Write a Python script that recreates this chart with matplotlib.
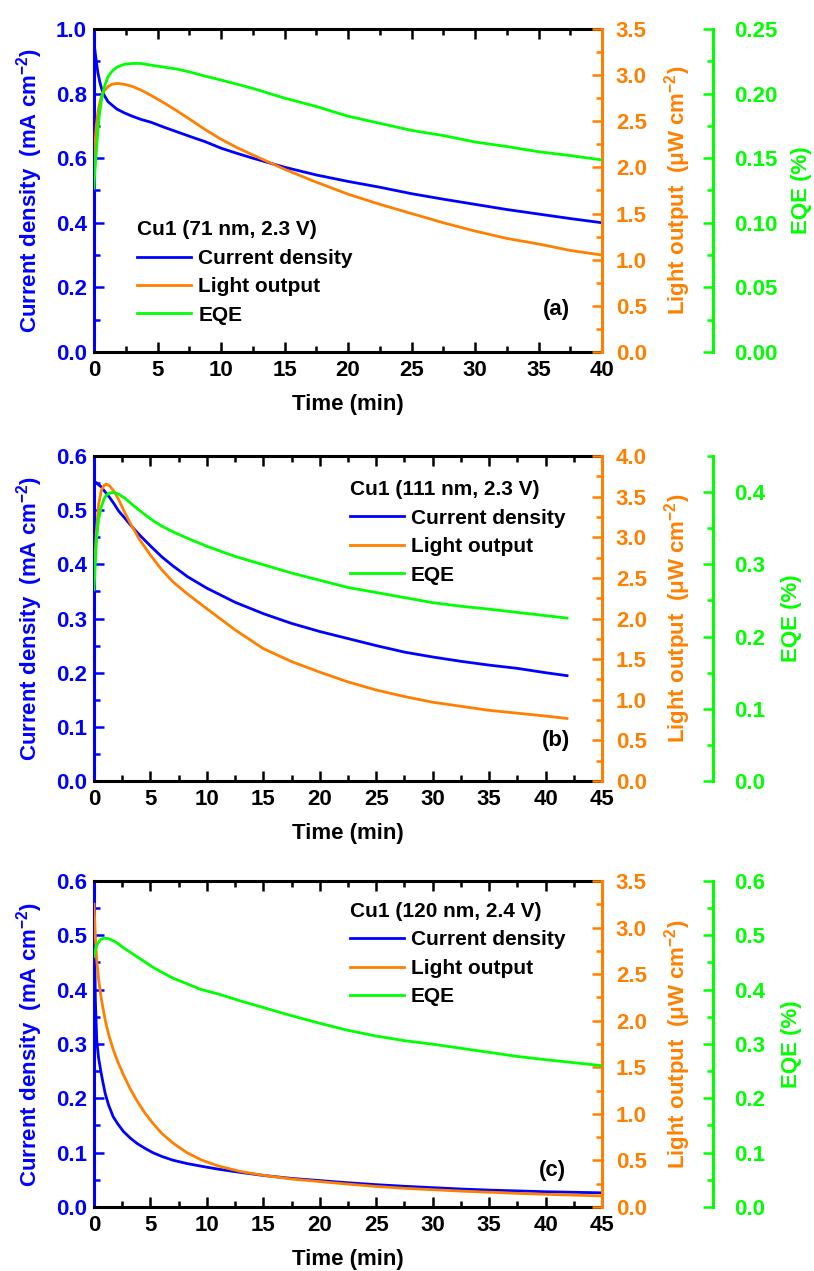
import matplotlib.pyplot as plt
from matplotlib.ticker import MultipleLocator, FormatStrFormatter

plt.rcParams['font.family'] = ['Liberation Sans', 'DejaVu Sans']
plt.rcParams['font.weight'] = 'bold'
plt.rcParams['axes.labelweight'] = 'bold'
plt.rcParams['mathtext.fontset'] = 'custom'
plt.rcParams['mathtext.rm'] = 'Liberation Sans:bold'
plt.rcParams['mathtext.it'] = 'Liberation Sans:bold'
plt.rcParams['mathtext.bf'] = 'Liberation Sans:bold'

BLUE = '#0000FF'
ORANGE = '#FF8000'
GREEN = '#00FF00'

# (a) Cu1 71 nm, 2.3 V
t_a = [0, 0.05, 0.18, 0.3, 0.45, 0.6, 0.8, 1.1, 1.4, 1.8, 2.4, 3.0, 3.7, 4.5, 5.5, 6.5,
       7.5, 8.75, 10, 11.25, 12.5, 15, 17.5, 20, 22.5, 25, 27.5, 30, 32.5, 35, 37.5, 40]
j_a = [0.98, 0.94, 0.90, 0.866, 0.837, 0.815, 0.795, 0.775, 0.765, 0.752, 0.740, 0.730,
       0.720, 0.711, 0.696, 0.682, 0.668, 0.651, 0.631, 0.615, 0.600, 0.572, 0.548, 0.528,
       0.510, 0.490, 0.473, 0.457, 0.441, 0.427, 0.413, 0.400]
l_a = [2.0, 2.2, 2.45, 2.59, 2.70, 2.775, 2.83, 2.875, 2.90, 2.91, 2.90, 2.878, 2.838,
       2.78, 2.70, 2.615, 2.525, 2.41, 2.305, 2.215, 2.135, 1.98, 1.84, 1.71, 1.60, 1.50,
       1.40, 1.31, 1.23, 1.17, 1.10, 1.05]
g_a = [0.1267, 0.138, 0.155, 0.171, 0.186, 0.196, 0.205, 0.213, 0.217, 0.2205, 0.2227,
       0.2233, 0.2233, 0.222, 0.2205, 0.219, 0.2168, 0.2135, 0.2105, 0.2073, 0.204,
       0.1965, 0.190, 0.1825, 0.177, 0.1715, 0.1675, 0.1625, 0.159, 0.155, 0.152, 0.1486]

# (b) Cu1 111 nm, 2.3 V
t_b = [0, 0.2, 0.4, 0.65, 0.9, 1.1, 1.4, 1.8, 2.2, 2.7, 3.3, 4.0, 5.0, 6.0, 7.0, 8.3, 10,
       12.5, 15, 17.5, 20, 22.5, 25, 27.5, 30, 32.5, 35, 37.5, 40, 41.9]
j_b = [0.5525, 0.551, 0.547, 0.543, 0.536, 0.531, 0.523, 0.511, 0.498, 0.486, 0.471,
       0.455, 0.434, 0.414, 0.397, 0.377, 0.356, 0.330, 0.309, 0.291, 0.276, 0.263, 0.250,
       0.238, 0.229, 0.221, 0.214, 0.208, 0.200, 0.1945]
l_b = [2.5, 3.05, 3.40, 3.58, 3.64, 3.655, 3.63, 3.56, 3.46, 3.31, 3.15, 2.98, 2.78, 2.60,
       2.45, 2.30, 2.12, 1.86, 1.63, 1.47, 1.34, 1.22, 1.12, 1.04, 0.97, 0.92, 0.87, 0.835,
       0.80, 0.77]
g_b = [0.265, 0.33, 0.362, 0.38, 0.391, 0.396, 0.399, 0.3995, 0.397, 0.392, 0.384, 0.375,
       0.363, 0.353, 0.345, 0.336, 0.325, 0.311, 0.2995, 0.288, 0.278, 0.268, 0.261, 0.254,
       0.247, 0.242, 0.238, 0.2335, 0.229, 0.2256]

# (c) Cu1 120 nm, 2.4 V
t_c = [0, 0.05, 0.12, 0.24, 0.4, 0.6, 0.8, 1.0, 1.3, 1.7, 2.1, 2.6, 3.2, 3.8, 4.5, 5.2,
       6.0, 7.0, 8.2, 9.5, 11, 13, 15, 17.5, 20, 22.5, 25, 27.5, 30, 32.5, 35, 37.5, 40,
       42.5, 45]
j_c = [0.59, 0.48, 0.38, 0.307, 0.275, 0.25, 0.228, 0.208, 0.187, 0.166, 0.153, 0.139,
       0.127, 0.117, 0.108, 0.100, 0.093, 0.086, 0.080, 0.075, 0.0695, 0.0635, 0.058,
       0.0525, 0.0485, 0.0445, 0.041, 0.038, 0.0355, 0.033, 0.031, 0.0295, 0.028, 0.027,
       0.026]
l_c = [3.25, 3.1, 2.9, 2.65, 2.45, 2.27, 2.13, 2.00, 1.85, 1.69, 1.56, 1.42, 1.27, 1.14,
       1.01, 0.90, 0.79, 0.685, 0.585, 0.505, 0.44, 0.38, 0.34, 0.30, 0.272, 0.245, 0.22,
       0.20, 0.185, 0.17, 0.158, 0.146, 0.136, 0.127, 0.118]
g_c = [0.4607, 0.468, 0.474, 0.481, 0.487, 0.4925, 0.4942, 0.4945, 0.4935, 0.490, 0.485,
       0.477, 0.469, 0.4605, 0.451, 0.4415, 0.432, 0.421, 0.411, 0.400, 0.392, 0.379,
       0.367, 0.352, 0.338, 0.325, 0.3145, 0.306, 0.2995, 0.292, 0.2845, 0.277, 0.271,
       0.2655, 0.26]

panels = [
    dict(t=t_a, j=j_a, l=l_a, g=g_a, tag='(a)', title='Cu1 (71 nm, 2.3 V)',
         rect=[0.1155, 0.7231, 0.6241, 0.2541], xmax=40, jmax=1.0, jstep=0.2,
         lmax=3.5, gmax=0.25, gstep=0.05, gfmt='%.2f', leg=(0.0846, 0.407),
         tagpos=(0.937, 0.13), eqe_x=1.371),
    dict(t=t_b, j=j_b, l=l_b, g=g_b, tag='(b)', title='Cu1 (111 nm, 2.3 V)',
         rect=[0.1155, 0.3855, 0.6241, 0.2557], xmax=45, jmax=0.6, jstep=0.1,
         lmax=4.0, gmax=0.45, gstep=0.1, gfmt='%.1f', leg=(0.503, 0.925),
         tagpos=(0.937, 0.126), eqe_x=1.352),
    dict(t=t_c, j=j_c, l=l_c, g=g_c, tag='(c)', title='Cu1 (120 nm, 2.4 V)',
         rect=[0.1155, 0.0504, 0.6241, 0.2565], xmax=45, jmax=0.6, jstep=0.1,
         lmax=3.5, gmax=0.6, gstep=0.1, gfmt='%.1f', leg=(0.503, 0.935),
         tagpos=(0.93, 0.113), eqe_x=1.352),
]

fig = plt.figure(figsize=(8.14, 12.71), dpi=100)

for p in panels:
    ax = fig.add_axes(p['rect'])
    ax2 = ax.twinx()
    ax3 = ax.twinx()

    h1, = ax.plot(p['t'], p['j'], color=BLUE, lw=2.0, label='Current density')
    h2, = ax2.plot(p['t'], p['l'], color=ORANGE, lw=2.0, label='Light output')
    h3, = ax3.plot(p['t'], p['g'], color=GREEN, lw=2.0, label='EQE')

    ax.set_xlim(0, p['xmax'])
    ax.set_ylim(0, p['jmax'])
    ax2.set_ylim(0, p['lmax'])
    ax3.set_ylim(0, p['gmax'])

    ax.xaxis.set_major_locator(MultipleLocator(5))
    ax.xaxis.set_minor_locator(MultipleLocator(2.5))
    ax.yaxis.set_major_locator(MultipleLocator(p['jstep']))
    ax.yaxis.set_minor_locator(MultipleLocator(p['jstep'] / 2))
    ax.yaxis.set_major_formatter(FormatStrFormatter('%.1f'))
    ax2.yaxis.set_major_locator(MultipleLocator(0.5))
    ax2.yaxis.set_minor_locator(MultipleLocator(0.25))
    ax2.yaxis.set_major_formatter(FormatStrFormatter('%.1f'))
    ax3.yaxis.set_major_locator(MultipleLocator(p['gstep']))
    ax3.yaxis.set_minor_locator(MultipleLocator(p['gstep'] / 2))
    ax3.yaxis.set_major_formatter(FormatStrFormatter(p['gfmt']))

    # spines
    for s in ax.spines.values():
        s.set_linewidth(2.2)
    ax.spines['left'].set_color(BLUE)
    ax.spines['right'].set_visible(False)
    for s in ['left', 'top', 'bottom']:
        ax2.spines[s].set_visible(False)
        ax3.spines[s].set_visible(False)
    ax2.spines['right'].set_color(ORANGE)
    ax2.spines['right'].set_linewidth(2.2)
    ax3.spines['right'].set_position(('axes', 1.2185))
    ax3.spines['right'].set_color(GREEN)
    ax3.spines['right'].set_linewidth(2.2)

    ax.tick_params(axis='x', which='both', direction='in', top=True, width=1.8,
                   labelsize=16, pad=6)
    ax.tick_params(axis='x', which='major', length=7)
    ax.tick_params(axis='x', which='minor', length=4)
    ax.tick_params(axis='y', which='both', direction='in', colors=BLUE, width=1.8,
                   labelsize=16, pad=5)
    ax.tick_params(axis='y', which='major', length=7)
    ax.tick_params(axis='y', which='minor', length=4)
    ax2.tick_params(axis='y', which='both', direction='in', colors=ORANGE, width=1.8,
                    labelsize=16, pad=10)
    ax2.tick_params(axis='y', which='major', length=7)
    ax2.tick_params(axis='y', which='minor', length=4)
    ax3.tick_params(axis='y', which='both', direction='in', colors=GREEN, width=1.8,
                    labelsize=16, pad=15)
    ax3.tick_params(axis='y', which='major', length=7)
    ax3.tick_params(axis='y', which='minor', length=4)

    ax.set_xlabel('Time (min)', fontsize=16)
    ax.xaxis.set_label_coords(0.5, -0.13)
    ax.set_ylabel('Current density  (mA cm$^{-2}$)', fontsize=16, color=BLUE)
    ax.yaxis.set_label_coords(-0.096, 0.5)
    ax2.set_ylabel('Light output  (\u03bcW cm$^{-2}$)', fontsize=16, color=ORANGE)
    ax2.yaxis.set_label_coords(1.118, 0.5)
    ax3.set_ylabel('EQE (%)', fontsize=16, color=GREEN)
    ax3.yaxis.set_label_coords(p['eqe_x'], 0.5)

    leg = ax3.legend(handles=[h1, h2, h3], title=p['title'], loc='upper left',
                     bbox_to_anchor=p['leg'], frameon=False, fontsize=15,
                     title_fontproperties={'weight': 'bold', 'size': 15},
                     alignment='left', borderpad=0, borderaxespad=0,
                     handlelength=2.6, handletextpad=0.35, labelspacing=0.45)

    ax.text(p['tagpos'][0], p['tagpos'][1], p['tag'], transform=ax.transAxes,
            ha='right', va='center', fontsize=16)

fig.savefig('out.png', dpi=100)
